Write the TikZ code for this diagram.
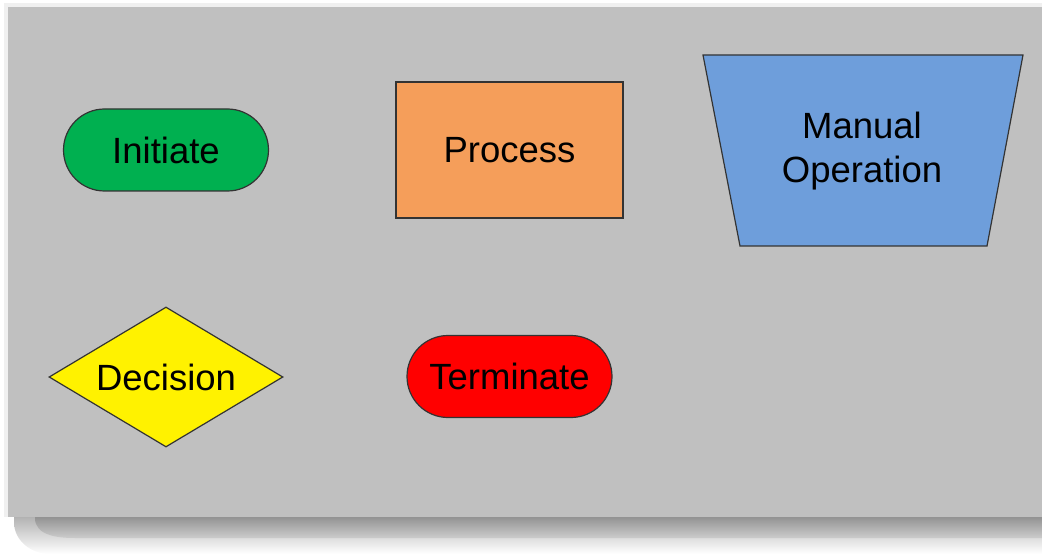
\documentclass[tikz,border=0pt]{standalone}
\usepackage{fontspec}
\setmainfont{Liberation Sans}
\usetikzlibrary{shapes.geometric,shapes.misc}
\definecolor{panelgray}{HTML}{C0C0C0}
\definecolor{startgreen}{HTML}{00B050}
\definecolor{procorange}{HTML}{F59E5A}
\definecolor{manualblue}{HTML}{6E9EDB}
\definecolor{edgegray}{HTML}{333333}
\tikzset{
  shapebox/.style={draw=edgegray,line width=1.2pt,font=\fontsize{36.5}{44}\selectfont,align=center,inner sep=0pt},
  stadium/.style={shapebox,rounded rectangle,minimum width=205,minimum height=82},
}
\begin{document}
\begin{tikzpicture}[x=1pt,y=-1pt]
    \useasboundingbox (0,0) rectangle (1042,556);
    % soft edge round the panel
    \fill[gray!12] (4,3) rectangle (1042,517);
    % shadow under the panel
    \shade[top color=gray!60,bottom color=white] (14,517) -- (1042,517) -- (1042,554) -- (50,554) to[out=180,in=-90] (14,522) -- cycle;
    \shade[top color=gray!85,bottom color=gray!40] (35,517) -- (1042,517) -- (1042,538) -- (75,538) to[out=180,in=-90] (35,518) -- cycle;
    % the panel
    \fill[panelgray] (8,7) rectangle (1042,517);

    \node[stadium,fill=startgreen] (initiate) at (166,150) {Initiate};
    \node[shapebox,fill=procorange,minimum width=227,minimum height=136] (process) at (509.5,150) {Process};
    % manual operation
    \filldraw[fill=manualblue,draw=edgegray,line width=1.2pt] (703,55) -- (1023,55) -- (987,246) -- (740,246) -- cycle;
    \node[font=\fontsize{36.5}{44}\selectfont,align=center] (manual) at (862,151) {Manual\\Operation};
    \node[shapebox,fill=yellow,diamond,aspect=1.67,minimum width=234,minimum height=140] (decision) at (166,377) {Decision};
    \node[stadium,fill=red] (terminate) at (509.5,376.5) {Terminate};
\end{tikzpicture}
\end{document}
